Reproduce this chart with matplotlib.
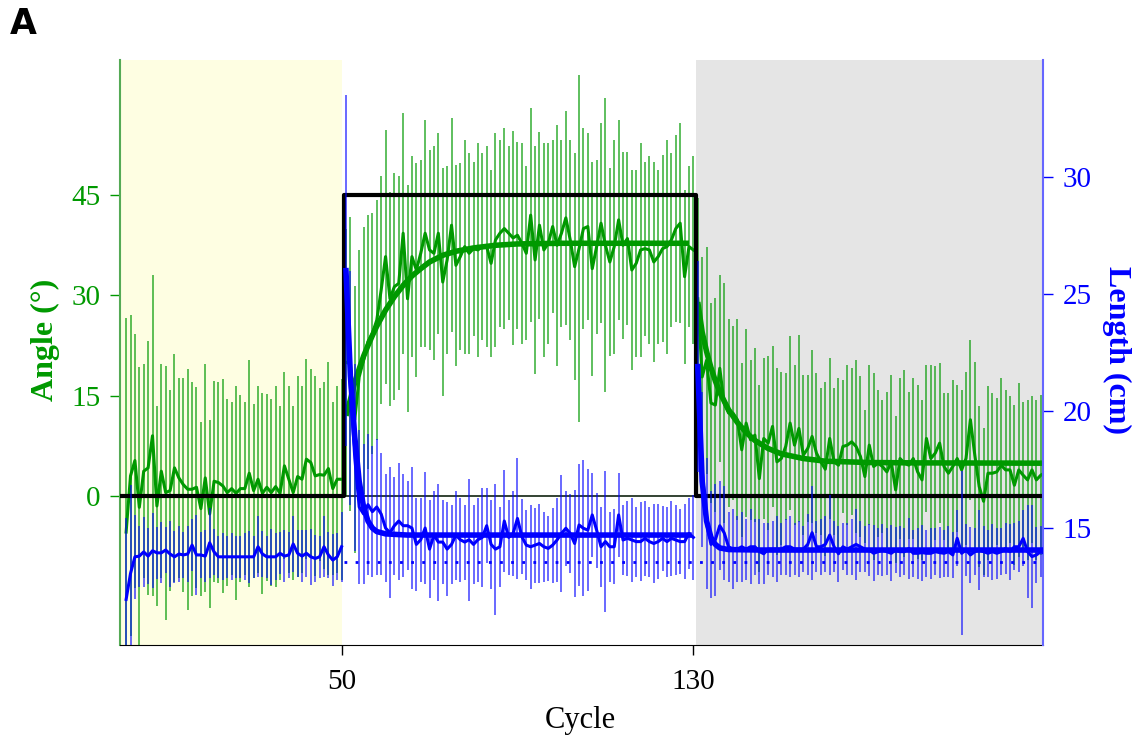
import matplotlib
matplotlib.use('Agg')
import matplotlib.pyplot as plt
import numpy as np

plt.rcParams['font.family'] = ['Liberation Serif', 'DejaVu Serif']

GREEN = '#009900'
BLUE = '#0000ff'

# cycles of the three phases
base_x = list(range(1, 51))
adapt_x = list(range(51, 131))
wash_x = list(range(131, 211))

# mean hand angle (deg)
angle_base = [-5.4, 3.0, 5.3, -1.7, 3.7, 4.2, 9.0, -1.5, 3.7, 0.5,
              0.8, 4.2, 2.7, 1.7, 1.0, 1.0, 1.3, -1.9, 2.7, -2.7,
              2.2, 2.0, 1.5, 0.5, 1.1, 0.4, 1.1, 1.1, 3.4, 0.8,
              2.5, 0.4, 1.3, 0.5, 1.4, 0.4, 4.5, 2.5, 0.5, 2.9,
              2.5, 5.5, 5.0, 3.0, 3.2, 3.1, 4.1, 1.1, 2.5, 2.5]
angle_adapt = [20.0, 19.8, 11.4, 17.8, 20.3, 23.1, 24.3, 26.3, 30.8, 35.8,
               29.5, 31.3, 31.8, 39.3, 29.5, 35.8, 33.8, 36.3, 39.3, 36.8,
               36.3, 39.3, 32.0, 35.3, 40.5, 34.5, 35.8, 37.3, 36.3, 37.0,
               36.8, 37.3, 37.3, 34.8, 38.3, 39.3, 40.0, 39.3, 38.6, 39.0,
               37.8, 36.3, 42.0, 35.3, 40.5, 36.8, 37.8, 40.3, 37.5, 39.3,
               41.6, 38.3, 34.3, 37.0, 40.0, 40.3, 34.0, 37.3, 40.8, 37.5,
               35.0, 37.3, 41.3, 37.5, 38.5, 33.8, 34.8, 36.8, 37.0, 36.8,
               35.0, 35.8, 37.0, 37.3, 38.3, 40.0, 40.8, 32.8, 37.3, 36.8]
angle_wash = [29.5, 17.8, 20.3, 13.9, 13.6, 19.1, 13.9, 12.4, 12.4, 11.4,
              6.9, 10.9, 8.4, 9.1, 2.6, 8.6, 7.9, 10.4, 5.1, 5.6,
              7.4, 10.9, 7.6, 10.1, 6.1, 7.1, 8.9, 6.4, 5.1, 4.0,
              8.6, 5.1, 4.6, 7.4, 7.6, 8.1, 7.4, 5.9, 2.9, 7.6,
              4.4, 4.9, 4.4, 3.6, 5.1, 0.9, 5.6, 4.9, 4.6, 5.6,
              3.6, 2.4, 8.6, 5.6, 6.4, 7.9, 4.4, 3.4, 4.4, 5.6,
              3.9, 5.6, 11.4, 6.1, 1.4, -0.8, 3.4, 3.4, 3.6, 4.6,
              3.9, 3.9, 1.6, 3.9, 3.1, 2.4, 3.9, 2.4, 3.1, 3.5]

# angle SD (deg)
angle_sd_base = [32, 24, 19, 21, 16, 19, 24, 15, 16, 19, 15, 17, 15, 16, 18, 16, 15, 13, 17, 14,
                 15, 15, 16, 14, 13, 16, 14, 13, 17, 13, 14, 15, 14, 14, 15, 13, 14, 14, 13, 15,
                 14, 15, 14, 15, 13, 14, 16, 13, 14, 15]
angle_sd_adapt = [20, 22, 20, 19, 20, 19, 18, 18, 17, 19, 16, 17, 16, 18, 17, 15, 16, 14, 17, 15,
                  16, 15, 17, 14, 16, 15, 14, 16, 15, 13, 16, 14, 15, 14, 16, 14, 15, 13, 16, 14,
                  15, 13, 16, 17, 14, 16, 15, 13, 18, 14, 16, 15, 17, 26, 15, 14, 16, 13, 15, 22,
                  14, 16, 15, 14, 13, 15, 14, 16, 13, 14, 15, 13, 14, 16, 13, 14, 15, 13, 12, 14]
angle_sd_wash = [15, 18, 17, 15, 16, 14, 18, 14, 13, 15, 13, 14, 12, 13, 14, 12, 13, 12, 14, 13,
                 11, 13, 12, 14, 12, 11, 13, 12, 11, 13, 12, 11, 13, 10, 12, 11, 13, 12, 10, 12,
                 14, 11, 10, 12, 13, 11, 12, 14, 11, 12, 13, 12, 11, 14, 13, 12, 11, 12, 13, 11,
                 12, 13, 12, 14, 12, 11, 13, 12, 11, 13, 12, 11, 12, 13, 11, 12, 11, 12, 12, 11]

# mean length (cm)
length_base = [11.95, 13.06, 13.77, 13.80, 13.98, 13.80, 14.03, 13.94, 13.94, 14.06,
               13.89, 13.77, 13.89, 13.85, 13.89, 14.27, 13.85, 13.85, 13.80, 14.37,
               13.98, 13.77, 13.77, 13.77, 13.77, 13.77, 13.77, 13.77, 13.77, 13.77,
               14.20, 13.89, 13.77, 13.77, 13.77, 13.92, 13.80, 13.85, 14.32, 13.92,
               13.80, 13.92, 13.77, 13.70, 13.77, 14.20, 13.85, 13.63, 13.77, 14.20]
length_adapt = [26.0, 21.0, 18.0, 15.9, 15.6, 16.0, 15.7, 15.9, 15.6, 15.0,
                14.8, 15.1, 15.3, 15.1, 15.1, 15.0, 14.3, 14.5, 15.0, 14.1,
                14.7, 14.4, 14.4, 14.1, 14.3, 14.7, 14.5, 14.4, 14.5, 14.3,
                14.5, 14.6, 15.1, 14.3, 14.1, 14.2, 15.3, 14.6, 14.77, 15.41,
                14.63, 14.27, 14.20, 14.27, 14.34, 14.20, 14.13, 14.27, 14.49, 14.77,
                14.99, 14.77, 14.34, 15.13, 14.99, 14.91, 15.56, 14.91, 14.20, 14.42,
                14.20, 14.20, 15.56, 14.49, 14.56, 14.49, 14.42, 14.42, 14.56, 14.42,
                14.34, 14.42, 14.56, 14.42, 14.56, 14.49, 14.42, 14.42, 14.77, 14.6]
length_wash = [21.9, 17.5, 15.2, 14.3, 14.5, 15.1, 14.8, 14.2, 14.1, 14.1,
               14.2, 14.1, 14.2, 14.2, 14.0, 13.9, 14.1, 14.1, 14.1, 14.1,
               14.2, 14.2, 14.1, 14.1, 14.1, 14.3, 14.8, 14.2, 14.2, 14.3,
               14.7, 14.2, 13.9, 14.2, 14.1, 14.2, 14.3, 14.2, 14.1, 14.06,
               13.92, 13.99, 14.06, 13.99, 13.92, 14.06, 13.99, 13.99, 14.13, 13.92,
               13.92, 13.95, 13.92, 13.92, 13.99, 13.95, 13.92, 13.99, 13.85, 14.56,
               13.92, 14.06, 13.85, 13.99, 14.06, 13.99, 13.92, 13.99, 13.92, 13.99,
               14.13, 13.99, 14.20, 14.20, 14.56, 13.99, 13.78, 13.85, 13.99, 13.9]

# length SD (cm)
length_sd_base = [3.5, 3.8, 1.8, 1.3, 1.5, 1.2, 1.6, 1.1, 1.3, 1.0,
                  1.4, 1.1, 1.2, 1.0, 1.2, 1.1, 1.7, 1.0, 1.1, 1.5,
                  1.0, 0.9, 1.0, 0.9, 1.0, 0.9, 0.9, 1.0, 1.1, 0.9,
                  1.3, 1.0, 0.9, 1.2, 1.0, 0.9, 1.1, 1.0, 1.2, 1.0,
                  1.1, 1.0, 1.2, 1.0, 0.9, 1.3, 1.0, 1.1, 1.0, 1.5]
length_sd_adapt = [7.5, 5.0, 4.0, 3.3, 3.0, 3.0, 2.8, 2.9, 2.6, 2.3, 2.8, 2.1, 2.5, 2.2, 1.9, 2.6,
                   2.0, 1.8, 2.4, 2.1, 1.9, 2.5, 1.8, 2.0, 1.7, 1.9, 1.8, 1.6, 2.6, 1.7, 1.8, 2.1,
                   1.6, 1.9, 2.8, 1.7, 2.2, 1.6, 1.8, 2.6, 1.6, 1.5, 1.8, 1.6, 1.7, 1.5, 1.4, 1.6,
                   1.8, 2.5, 1.6, 1.7, 2.3, 2.6, 2.9, 2.6, 1.8, 1.6, 1.7, 3.0, 1.5, 1.6, 1.8, 1.5,
                   1.6, 1.8, 1.5, 1.7, 1.6, 1.5, 1.7, 1.6, 1.4, 1.5, 1.6, 1.5, 1.4, 1.6, 1.5, 1.8]
length_sd_wash = [4.5, 3.3, 2.8, 2.3, 2.4, 1.9, 2.0, 1.5, 1.7, 1.4, 1.5, 1.3, 1.6, 1.2, 1.4, 1.3,
                  1.1, 1.2, 1.4, 1.1, 1.2, 1.3, 1.1, 1.2, 1.0, 1.3, 2.0, 1.1, 1.2, 1.2, 1.7, 1.1,
                  1.2, 1.0, 1.1, 1.2, 1.5, 1.1, 1.0, 1.1, 1.2, 1.0, 1.1, 1.0, 1.2, 1.0, 1.1, 1.0,
                  1.3, 1.0, 1.1, 1.2, 1.0, 1.1, 1.0, 1.1, 1.0, 1.1, 1.0, 1.2, 3.5, 1.1, 1.2, 1.0,
                  1.7, 1.1, 1.0, 1.2, 1.1, 1.0, 1.1, 1.2, 1.0, 1.1, 1.2, 2.0, 2.2, 1.2, 1.1, 1.4]

fit_angle_adapt_x = [51, 52, 53, 54, 55, 56, 57, 58, 60, 62, 64, 66, 68, 70, 73, 76, 80, 85, 90, 100, 110, 120, 129]
fit_angle_adapt = [12.0, 14.4, 17.0, 19.0, 20.9, 22.5, 24.0, 25.4, 27.8, 29.8, 31.5, 32.9, 34.0, 35.0,
                   36.0, 36.6, 37.1, 37.5, 37.7, 37.8, 37.8, 37.8, 37.8]
fit_angle_wash_x = [131, 132, 133, 134, 135, 136, 138, 140, 142, 144, 147, 150, 155, 160, 170, 180, 210]
fit_angle_wash = [29.0, 24.5, 21.6, 19.2, 17.2, 15.5, 12.9, 11.0, 9.5, 8.3, 7.1, 6.3, 5.6, 5.2, 5.0, 4.95, 4.9]
fit_len_adapt_x = [51, 52, 53, 54, 55, 56, 57, 58, 60, 65, 129]
fit_len_adapt = [26.0, 21.5, 18.9, 17.0, 15.9, 15.3, 15.0, 14.85, 14.75, 14.7, 14.7]
fit_len_wash_x = [131, 132, 133, 134, 135, 136, 138, 145, 210]
fit_len_wash = [21.9, 17.0, 15.3, 14.6, 14.3, 14.15, 14.08, 14.06, 14.06]

# target rotation and reference length
target_x = [0, 50.5, 50.5, 130.5, 130.5, 210]
target_angle = [0, 0, 45, 45, 0, 0]
ref_length = 13.55

fig = plt.figure(figsize=(11.36, 7.42), dpi=100)
ax = fig.add_axes([0.1056, 0.1307, 0.8125, 0.7883])
ax2 = ax.twinx()

ax.axvspan(-1, 50, color='#fefee2', lw=0, zorder=0)
ax.axvspan(130.6, 212, color='#e5e5e5', lw=0, zorder=0)

# angle
for xs, m, sd in [(base_x, angle_base, angle_sd_base),
                  (adapt_x, angle_adapt, angle_sd_adapt),
                  (wash_x, angle_wash, angle_sd_wash)]:
    ax.errorbar(xs, m, yerr=sd, fmt='none', ecolor=GREEN, elinewidth=1.1, alpha=0.8, zorder=2)
    ax.plot(xs, m, color=GREEN, lw=2.2, zorder=4)
ax.plot(fit_angle_adapt_x, fit_angle_adapt, color=GREEN, lw=4, zorder=5, solid_capstyle='butt')
ax.plot(fit_angle_wash_x, fit_angle_wash, color=GREEN, lw=4, zorder=5, solid_capstyle='butt')
ax.axhline(0, color='#112211', lw=1.2, zorder=3)
ax.plot(target_x, target_angle, color='black', lw=3, zorder=6)

# length
for xs, m, sd in [(base_x, length_base, length_sd_base),
                  (adapt_x, length_adapt, length_sd_adapt),
                  (wash_x, length_wash, length_sd_wash)]:
    ax2.errorbar(xs, m, yerr=sd, fmt='none', ecolor=BLUE, elinewidth=1.1, alpha=0.75, zorder=2)
    ax2.plot(xs, m, color=BLUE, lw=2.2, zorder=4)
ax2.plot(fit_len_adapt_x, fit_len_adapt, color=BLUE, lw=4, zorder=5)
ax2.plot(fit_len_wash_x, fit_len_wash, color=BLUE, lw=4, zorder=5)
ax2.plot([50.5, 210], [ref_length, ref_length], color=BLUE, lw=2, ls=(0, (1.0, 3.0)), zorder=3)

ax.set_xlim(-0.4, 209.5)
ax.set_ylim(-22.3, 65.2)
ax2.set_ylim(10, 35)

ax.set_xticks([50, 130])
ax.set_yticks([0, 15, 30, 45])
ax2.set_yticks([15, 20, 25, 30])
ax.tick_params(axis='x', length=7, width=1, labelsize=21, pad=10)
ax.tick_params(axis='y', length=7, width=1, labelsize=21, pad=7, colors=GREEN)
ax2.tick_params(axis='y', length=7, width=1, labelsize=21, pad=7, colors=BLUE)

for a in (ax, ax2):
    a.spines['top'].set_visible(False)
ax.spines['right'].set_visible(False)
ax2.spines['left'].set_visible(False)
ax2.spines['bottom'].set_visible(False)
ax.spines['left'].set_color('#55aa55')
ax2.spines['right'].set_color('#6666ff')
ax2.spines['right'].set_linewidth(1.5)
ax.spines['left'].set_linewidth(1.5)

fig.text(0.0396, 0.5418, 'Angle (°)', rotation=90, ha='center', va='center',
         color=GREEN, fontsize=23, fontweight='bold')
fig.text(0.9833, 0.528, 'Length (cm)', rotation=-90, ha='center', va='center',
         color=BLUE, fontsize=23, fontweight='bold')
fig.text(0.5106, 0.0296, 'Cycle', ha='center', va='center', fontsize=22)
fig.text(0.009, 0.9677, 'A', ha='left', va='center', fontsize=25, fontweight='bold',
         family='DejaVu Sans')

fig.savefig('out.png', dpi=100)
